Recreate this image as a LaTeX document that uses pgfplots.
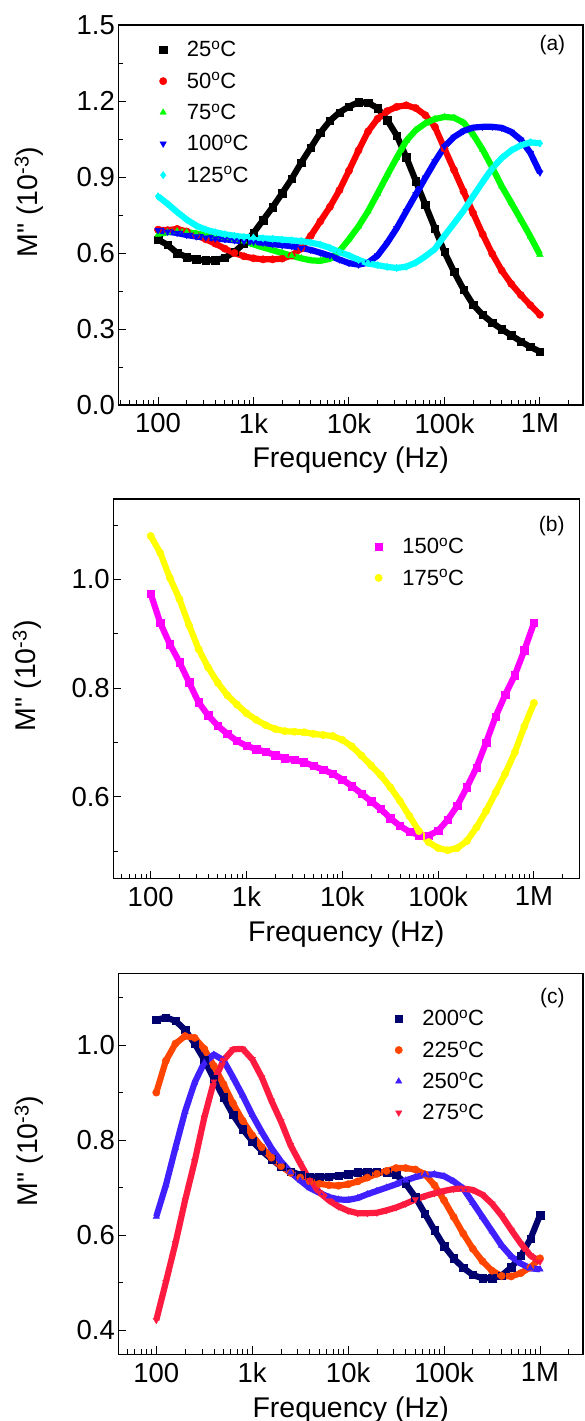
\documentclass[border=0pt]{standalone}
\usepackage{fontspec}
\setmainfont{Liberation Sans}
\usepackage{pgfplots}
\usepackage{pgfplotstable}
\pgfplotsset{compat=1.18}

\definecolor{cblack}{RGB}{0,0,0}
\definecolor{cred}{RGB}{255,0,0}
\definecolor{cgreen}{RGB}{0,255,0}
\definecolor{cblue}{RGB}{0,0,255}
\definecolor{ccyan}{RGB}{0,255,255}
\definecolor{cmagenta}{RGB}{255,0,255}
\definecolor{cyellow}{RGB}{255,255,0}
\definecolor{cnavy}{RGB}{0,0,110}
\definecolor{corange}{RGB}{255,69,0}
\definecolor{cviolet}{RGB}{64,32,255}
\definecolor{ccrimson}{RGB}{255,26,64}

% x = log10(frequency / Hz)
\pgfplotstableread{
lx a25 a50 a75 a100 a125
2.0 0.653 0.692 0.673 0.690 0.824
2.1 0.632 0.690 0.682 0.684 0.794
2.2 0.600 0.695 0.686 0.679 0.762
2.3 0.584 0.685 0.682 0.671 0.732
2.4 0.575 0.670 0.677 0.665 0.708
2.5 0.571 0.654 0.670 0.661 0.692
2.6 0.572 0.637 0.664 0.657 0.682
2.7 0.581 0.617 0.660 0.654 0.674
2.8 0.604 0.600 0.653 0.650 0.668
2.9 0.638 0.587 0.646 0.646 0.663
3.0 0.679 0.579 0.634 0.644 0.661
3.1 0.730 0.575 0.622 0.640 0.658
3.2 0.781 0.575 0.611 0.635 0.656
3.3 0.836 0.578 0.600 0.631 0.653
3.4 0.893 0.590 0.589 0.627 0.650
3.5 0.957 0.618 0.579 0.620 0.647
3.6 1.016 0.668 0.571 0.612 0.641
3.7 1.075 0.725 0.569 0.601 0.633
3.8 1.122 0.782 0.577 0.589 0.620
3.9 1.155 0.848 0.608 0.574 0.604
4.0 1.178 0.925 0.654 0.560 0.590
4.1 1.195 1.005 0.705 0.554 0.573
4.2 1.193 1.080 0.765 0.562 0.559
4.3 1.172 1.130 0.835 0.590 0.552
4.4 1.125 1.160 0.907 0.640 0.545
4.5 1.064 1.177 0.976 0.698 0.541
4.6 0.978 1.183 1.043 0.765 0.546
4.7 0.884 1.172 1.085 0.831 0.562
4.8 0.790 1.144 1.112 0.897 0.587
4.9 0.697 1.098 1.129 0.961 0.616
5.0 0.604 1.012 1.137 1.020 0.668
5.1 0.526 0.928 1.134 1.058 0.717
5.2 0.456 0.843 1.115 1.082 0.767
5.3 0.396 0.758 1.068 1.095 0.824
5.4 0.356 0.674 1.008 1.098 0.880
5.5 0.325 0.597 0.938 1.098 0.934
5.6 0.299 0.531 0.863 1.094 0.975
5.7 0.275 0.478 0.798 1.078 1.005
5.8 0.251 0.434 0.732 1.047 1.025
5.9 0.229 0.394 0.665 0.995 1.037
6.0 0.211 0.356 0.593 0.917 1.033
}\tabA

\pgfplotstableread{
lx b150 b175
2.0 0.974 1.080
2.1 0.920 1.049
2.2 0.881 1.003
2.3 0.848 0.964
2.4 0.811 0.916
2.5 0.774 0.872
2.6 0.750 0.838
2.7 0.731 0.810
2.8 0.716 0.787
2.9 0.703 0.770
3.0 0.694 0.754
3.1 0.688 0.742
3.2 0.683 0.732
3.3 0.677 0.725
3.4 0.671 0.721
3.5 0.668 0.720
3.6 0.664 0.719
3.7 0.657 0.716
3.8 0.650 0.714
3.9 0.643 0.712
4.0 0.632 0.705
4.1 0.620 0.693
4.2 0.606 0.676
4.3 0.592 0.658
4.4 0.578 0.640
4.5 0.561 0.618
4.6 0.547 0.593
4.7 0.536 0.565
4.8 0.530 0.537
4.9 0.529 0.517
5.0 0.538 0.506
5.1 0.558 0.502
5.2 0.584 0.506
5.3 0.618 0.519
5.4 0.654 0.544
5.5 0.700 0.574
5.6 0.748 0.608
5.7 0.788 0.643
5.8 0.824 0.682
5.9 0.870 0.730
6.0 0.920 0.773
}\tabB

\pgfplotstableread{
lx c200 c225 c250 c275
2.0 1.053 0.900 0.639 0.421
2.1 1.058 0.967 0.705 0.501
2.2 1.051 1.003 0.784 0.583
2.3 1.032 1.019 0.860 0.673
2.4 1.003 1.015 0.921 0.755
2.5 0.969 0.992 0.963 0.847
2.6 0.929 0.956 0.980 0.923
2.7 0.890 0.918 0.968 0.968
2.8 0.853 0.877 0.932 0.991
2.9 0.823 0.841 0.894 0.992
3.0 0.798 0.810 0.853 0.970
3.1 0.777 0.785 0.817 0.932
3.2 0.760 0.763 0.783 0.883
3.3 0.744 0.745 0.755 0.839
3.4 0.734 0.731 0.732 0.789
3.5 0.727 0.721 0.715 0.751
3.6 0.723 0.713 0.699 0.715
3.7 0.723 0.708 0.689 0.690
3.8 0.723 0.705 0.680 0.673
3.9 0.725 0.704 0.675 0.660
4.0 0.728 0.707 0.674 0.651
4.1 0.732 0.713 0.678 0.646
4.2 0.733 0.721 0.686 0.646
4.3 0.733 0.729 0.693 0.647
4.4 0.732 0.735 0.700 0.652
4.5 0.727 0.741 0.707 0.658
4.6 0.708 0.741 0.715 0.666
4.7 0.680 0.738 0.722 0.675
4.8 0.645 0.728 0.727 0.682
4.9 0.610 0.705 0.728 0.688
5.0 0.577 0.673 0.724 0.693
5.1 0.551 0.638 0.713 0.697
5.2 0.531 0.603 0.698 0.698
5.3 0.516 0.571 0.668 0.695
5.4 0.509 0.545 0.638 0.685
5.5 0.509 0.525 0.608 0.666
5.6 0.515 0.514 0.578 0.641
5.7 0.532 0.513 0.555 0.611
5.8 0.556 0.520 0.540 0.582
5.9 0.592 0.532 0.530 0.557
6.0 0.642 0.551 0.528 0.544
}\tabC

\newcommand{\lgfont}{\fontsize{22}{24}\selectfont}
\newcommand{\tkfont}{\fontsize{27.5}{30}\selectfont}

% table, column, colour, mark options, legend text
\newcommand{\series}[5]{%
  \addplot[forget plot, #3, line width=6.2pt, line join=round] table[x=lx,y=#2]{#1};
  \addplot[only marks, #3, #4, mark size=3.7pt] table[x=lx,y=#2]{#1};
  \addlegendentry{\lgfont #5}}

\pgfplotsset{
  mpanel/.style={
    scale only axis,
    axis line style={line width=1.3pt},
    every tick/.style={black, line width=1pt},
    tick align=inside, tick pos=left,
    major tick length=8pt, minor tick length=5pt,
    xtick={2,3,4,5,6}, xticklabels={100,1k,10k,100k,1M},
    minor xtick={1.602,1.699,1.778,1.845,1.903,1.954,
      2.301,2.477,2.602,2.699,2.778,2.845,2.903,2.954,
      3.301,3.477,3.602,3.699,3.778,3.845,3.903,3.954,
      4.301,4.477,4.602,4.699,4.778,4.845,4.903,4.954,
      5.301,5.477,5.602,5.699,5.778,5.845,5.903,5.954,6.301},
    /pgf/number format/assume math mode=true,
    yticklabel style={font=\tkfont, /pgf/number format/.cd, fixed, fixed zerofill, precision=1},
    xticklabel style={font=\tkfont, yshift=-5pt},
    label style={font=\fontsize{28.5}{32}\selectfont},
    xlabel={Frequency (Hz)},
    ylabel={M\textquotedbl{} (10\textsuperscript{-3})},
    xlabel style={at={(axis description cs:0.5,-0.146)}, anchor=center},
    legend style={draw=none, fill=none, inner sep=0pt, anchor=north west,
      nodes={inner sep=0pt}, row sep=14pt, column sep=20pt},
    legend cell align=left,
  }
}

\begin{document}
\begin{tikzpicture}
\useasboundingbox (0,0) rectangle (584pt,-1421pt);

% (a)
\begin{axis}[mpanel, at={(118.4pt,-405pt)}, anchor=south west,
  width=464.6pt, height=380pt,
  xmin=1.585, xmax=6.451, ymin=0, ymax=1.5,
  ytick={0,0.3,0.6,0.9,1.2,1.5}, minor y tick num=1,
  ylabel style={at={(axis description cs:-0.192,0.534)}, anchor=center},
  legend style={at={(axis description cs:0.088,0.958)}}]
\series{\tabA}{a25}{cblack}{mark=square*}{25\textsuperscript{o}C}
\series{\tabA}{a50}{cred}{mark=*}{50\textsuperscript{o}C}
\series{\tabA}{a75}{cgreen}{mark=triangle*}{75\textsuperscript{o}C}
\series{\tabA}{a100}{cblue}{mark=triangle*,mark options={rotate=180}}{100\textsuperscript{o}C}
\series{\tabA}{a125}{ccyan}{mark=diamond*}{125\textsuperscript{o}C}
\node[font=\fontsize{21}{24}\selectfont] at (rel axis cs:0.934,0.947) {(a)};
\end{axis}

% (b)
\begin{axis}[mpanel, at={(113.3pt,-878.5pt)}, anchor=south west,
  width=466pt, height=379.5pt,
  xmin=1.61, xmax=6.473, ymin=0.45, ymax=1.148,
  ytick={0.6,0.8,1.0}, minor ytick={0.5,0.7,0.9,1.1},
  ylabel style={at={(axis description cs:-0.185,0.534)}, anchor=center},
  legend style={at={(axis description cs:0.561,0.898)}}]
\series{\tabB}{b150}{cmagenta}{mark=square*}{150\textsuperscript{o}C}
\series{\tabB}{b175}{cyellow}{mark=*}{175\textsuperscript{o}C}
\node[font=\fontsize{21}{24}\selectfont] at (rel axis cs:0.941,0.929) {(b)};
\end{axis}

% (c)
\begin{axis}[mpanel, at={(118.4pt,-1354.3pt)}, anchor=south west,
  width=464.6pt, height=381pt,
  xmin=1.605, xmax=6.448, ymin=0.349, ymax=1.151,
  ytick={0.4,0.6,0.8,1.0}, minor ytick={0.5,0.7,0.9,1.1},
  ylabel style={at={(axis description cs:-0.192,0.534)}, anchor=center},
  legend style={at={(axis description cs:0.595,0.904)}}]
\series{\tabC}{c200}{cnavy}{mark=square*}{200\textsuperscript{o}C}
\series{\tabC}{c225}{corange}{mark=*}{225\textsuperscript{o}C}
\series{\tabC}{c250}{cviolet}{mark=triangle*}{250\textsuperscript{o}C}
\series{\tabC}{c275}{ccrimson}{mark=triangle*,mark options={rotate=180}}{275\textsuperscript{o}C}
\node[font=\fontsize{21}{24}\selectfont] at (rel axis cs:0.934,0.934) {(c)};
\end{axis}
\end{tikzpicture}
\end{document}
